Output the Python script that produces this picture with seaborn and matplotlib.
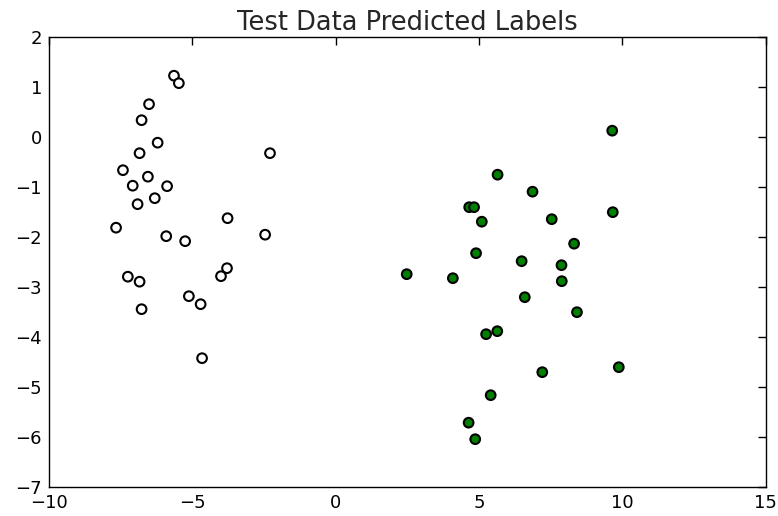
import matplotlib
matplotlib.use("Agg")
import matplotlib.pyplot as plt
import seaborn as sns
import pandas as pd

# Cluster 0 (white markers)
x_white = [-5.64, -5.47, -6.51, -6.77, -6.21, -6.84, -2.29, -7.42, -6.55, -7.08,
           -5.88, -6.31, -6.91, -7.66, -5.91, -5.25, -3.77, -2.46, -7.25, -6.84,
           -3.79, -4.00, -5.12, -4.71, -6.77, -4.66]
y_white = [1.22, 1.07, 0.65, 0.33, -0.12, -0.33, -0.33, -0.67, -0.80, -0.98,
           -0.99, -1.23, -1.35, -1.82, -1.99, -2.09, -1.63, -1.96, -2.80, -2.90,
           -2.63, -2.79, -3.19, -3.35, -3.45, -4.43]
# Cluster 1 (green markers)
x_green = [9.65, 5.65, 6.87, 4.66, 4.83, 5.10, 7.54, 9.67, 8.32, 4.90,
           6.49, 7.88, 7.89, 2.48, 4.09, 6.60, 8.42, 5.25, 5.64, 7.21,
           9.88, 5.41, 4.64, 4.87]
y_green = [0.12, -0.76, -1.10, -1.41, -1.41, -1.70, -1.65, -1.51, -2.14, -2.33,
           -2.49, -2.57, -2.89, -2.75, -2.83, -3.21, -3.51, -3.95, -3.89, -4.71,
           -4.61, -5.17, -5.72, -6.05]

x_ticks = [-10, -5, 0, 5, 10, 15]
y_ticks = [2, 1, 0, -1, -2, -3, -4, -5, -6, -7]

df = pd.DataFrame({
    "x": x_white + x_green,
    "y": y_white + y_green,
    "label": [0] * len(x_white) + [1] * len(x_green),
})

sns.set_style("white")
plt.rcParams["font.family"] = ["DejaVu Sans"]

fig = plt.figure(figsize=(7.78, 5.16), dpi=100)
ax = fig.add_axes([0.063, 0.0568, 0.921, 0.8721])

sns.scatterplot(data=df, x="x", y="y", hue="label",
                palette={0: "white", 1: "#008000"},
                edgecolor="black", linewidth=1.5, s=48,
                legend=False, ax=ax)

ax.set_xlim(-10, 15)
ax.set_ylim(-7, 2)
ax.set_xticks(x_ticks)
ax.set_yticks(y_ticks)
ax.set_xlabel("")
ax.set_ylabel("")
ax.tick_params(direction="in", top=True, right=True, length=6, width=1,
               labelsize=13, colors="black", pad=5)
for sp in ax.spines.values():
    sp.set_visible(True)
    sp.set_color("black")
    sp.set_linewidth(1.0)
ax.set_title("Test Data Predicted Labels", fontsize=18.5, pad=5)

fig.savefig("out.png", dpi=100, facecolor="white")
